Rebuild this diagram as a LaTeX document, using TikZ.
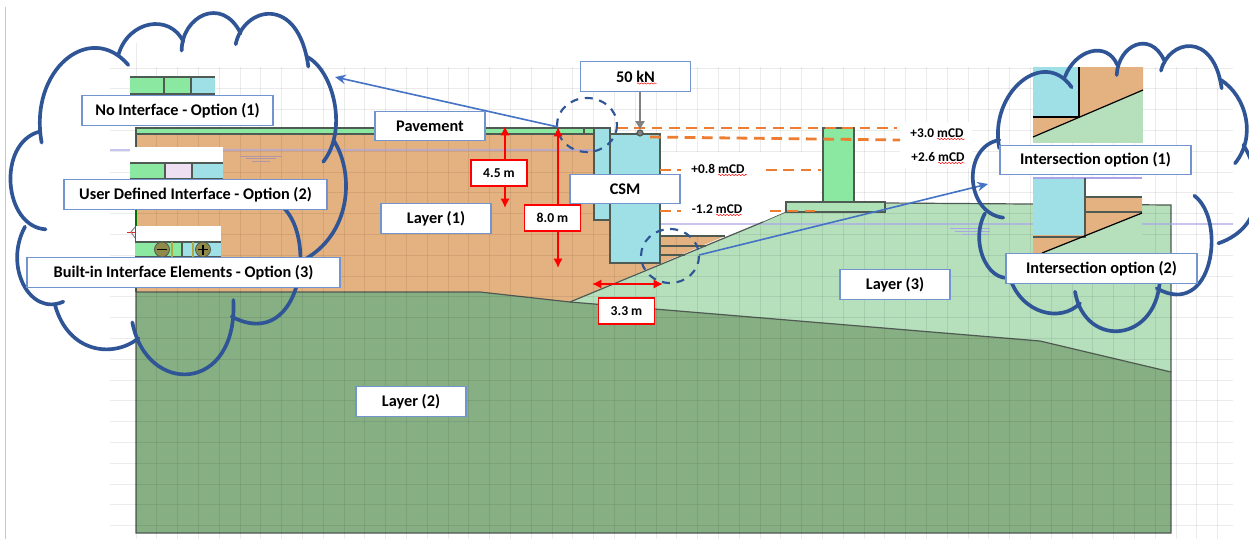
\documentclass[tikz,border=0pt]{standalone}
\usepackage{fontspec}
\setmainfont{Carlito}
\usepackage{xcolor}
\usepackage{tikz}
\usetikzlibrary{positioning,arrows.meta,decorations.pathmorphing,calc}
\definecolor{layerone}{HTML}{E4B180}
\definecolor{layertwo}{HTML}{87AF84}
\definecolor{layerthree}{HTML}{B5E0BB}
\definecolor{pavecol}{HTML}{8AE8A0}
\definecolor{csmcol}{HTML}{9FE0E6}
\definecolor{lilaccol}{HTML}{EFDFF3}
\definecolor{cloudcol}{HTML}{2F5597}
\definecolor{boxcol}{HTML}{7295CF}
\definecolor{calloutcol}{HTML}{4472C4}
\definecolor{levelcol}{HTML}{ED7D31}
\definecolor{watercol}{HTML}{A9A5E8}
\definecolor{edgecol}{HTML}{4F5A52}
\tikzset{
	soil/.style={draw=edgecol,line width=0.9pt},
	labelbox/.style={draw=boxcol,fill=white,line width=0.8pt,font=\fontsize{12.2}{14}\selectfont\bfseries,minimum height=22pt,inner sep=0pt},
	layerbox/.style={labelbox,minimum width=82.5pt},
	optionbox/.style={labelbox,minimum width=143.25pt},
	dimbox/.style={draw=red,fill=white,line width=0.8pt,font=\fontsize{10.2}{12}\selectfont\bfseries,minimum width=42pt,minimum height=19.5pt,inner sep=0pt},
	leveltext/.style={inner sep=0pt,font=\fontsize{10}{12}\selectfont\bfseries},
	dimline/.style={draw=red,line width=1.7pt,{Latex[length=7pt,width=7pt]}-{Latex[length=7pt,width=7pt]}},
	calloutline/.style={draw=calloutcol,line width=1.2pt,-{Stealth[length=8pt,width=7pt]}},
	levelline/.style={draw=levelcol,line width=2.1pt,dash pattern=on 8pt off 5pt},
	waterline/.style={draw=watercol,line width=1pt},
	cloudline/.style={draw=cloudcol,line width=2.75pt,line cap=round},
	zoomring/.style={draw=cloudcol,line width=1.6pt,dash pattern=on 6pt off 5pt},
	spell/.style={draw=red,line width=0.35pt,decorate,decoration={snake,amplitude=0.5pt,segment length=2.5pt}},
	gridline/.style={draw=black,opacity=0.08,line width=0.7pt}
}
\begin{document}
\begin{tikzpicture}[x=0.75pt,y=-0.75pt]
	\useasboundingbox (0,0) rectangle (1249,539);
	\clip (0,0) rectangle (1249,539);
	\fill[white] (0,0) rectangle (1249,539);
	\draw[black!22,line width=0.8pt] (5.5,7) -- (5.5,539);

	\fill[layerone] (136,134) -- (660,134) -- (660,236) -- (725,236) -- (570,302) -- (480,292) -- (136,292) -- cycle;
	\fill[layerthree] (570,302) -- (786,212) -- (786,203) -- (1171,205) -- (1171,372) -- (1040,341) -- cycle;
	\draw[soil,fill=layertwo] (136,292) -- (480,292) -- (570,302) -- (1040,341) -- (1171,372) -- (1171,533) -- (136,533) -- cycle;
	\draw[soil] (136,292) -- (136,134);
	\draw[soil] (885,203) -- (1171,205) -- (1171,372);

	\foreach \gx in {0,...,52}
		\draw[gridline] ({136+20.8*\gx},67) -- ({136+20.8*\gx},539);
	\draw[gridline] (136,43) -- (136,67);
	\foreach \gy in {0,...,22}
		\draw[gridline] (110,{68+20.8*\gy}) -- (1233,{68+20.8*\gy});

	\fill[white] (661,152) -- (820,152) -- (820,201) -- (786,201) -- (786,212) -- (725,236) -- (661,236) -- cycle;
	\fill[white] (900,122) rectangle (972,168);

	\coordinate (watera) at (110,150);
	\coordinate (waterb) at (593,150);
	\coordinate (waterc) at (660,224);
	\coordinate (waterd) at (1233,224);
	\draw[waterline] (watera) -- (waterb) -- (waterc) -- (waterd);
	\draw[draw=watercol!60!brown,line width=0.6pt] (240,156) -- (282,156) (246,158.5) -- (276,158.5) (252,161) -- (270,161);
	\draw[draw=watercol,line width=0.6pt] (950,228) -- (990,228) (955,231) -- (990,231) (962,234) -- (988,234);

	\draw[soil,fill=pavecol] (136,128) rectangle (594,134);
	\draw[soil] (584,128) -- (584,134);
	\draw[soil,fill=csmcol] (594,128) rectangle (610,220);
	\draw[soil,fill=csmcol] (610,134) rectangle (660,263);
	\draw[soil] (610,128) -- (610,134);
	\draw[soil] (660,236) -- (725,236) (660,246) -- (706,246) (660,255) -- (685,255);
	\draw[soil] (570,302) -- (763,222);
	\draw[edgecol,line width=0.5pt] (763,222) -- (786,212);
	\draw[soil,fill=pavecol] (823,128) rectangle (854,202);
	\draw[soil,fill=layerthree!85!pavecol] (786,202) rectangle (885,212);
	\draw[soil,fill=gray] (640,133) circle (3);

	\coordinate (topa) at (617,128);
	\coordinate (topb) at (897,128);
	\coordinate (wata) at (650,137);
	\coordinate (watb) at (900,140);
	\draw[levelline] (topa) -- (topb);
	\draw[levelline] (wata) -- (watb);
	\draw[levelline] (660,170) -- (681,170) (766,170) -- (821,170);
	\draw[levelline] (660,211) -- (681,211) (770,211) -- (821,211);

	\node[leveltext] (lvlthree) at (937,133) {+3.0 mCD};
	\node[leveltext] (lvltwosix) at (938,157) {+2.6 mCD};
	\node[leveltext] (lvlzero) at (718,169) {+0.8 mCD};
	\node[leveltext] (lvlminus) at (717,209) {-1.2 mCD};
	\draw[spell] (937,139) -- (965,139);
	\draw[spell] (938,163) -- (965,163);
	\draw[spell] (718,175) -- (747,175);
	\draw[spell] (716,215) -- (742,215);

	\draw[zoomring] (587,125) ellipse (30 and 27);
	\draw[zoomring] (670,256) ellipse (29 and 27);

	\coordinate (ringa) at (558,127);
	\coordinate (clouda) at (335,77);
	\coordinate (ringb) at (699,255);
	\coordinate (cloudb) at (988,184);
	\draw[calloutline] (ringa) -- (clouda);
	\draw[calloutline] (ringb) -- (cloudb);

	\fill[pavecol] (130,77) rectangle (215,94);
	\fill[csmcol] (191,77) rectangle (215,94);
	\fill[layerone] (130,94) rectangle (215,96);
	\draw[edgecol,line width=0.8pt] (130,77) -- (215,77) (130,94) -- (215,94) (164,77) -- (164,94) (191,77) -- (191,94);

	\fill[white] (130,147) rectangle (223,163);
	\fill[pavecol] (130,163) rectangle (165,179);
	\fill[lilaccol] (165,163) rectangle (192,179);
	\fill[csmcol] (192,163) rectangle (223,179);
	\draw[edgecol,line width=0.8pt] (130,163) -- (223,163) (130,179) -- (223,179) (165,163) -- (165,179) (192,163) -- (192,179);

	\draw[green!45!black,line width=0.8pt] (136,210) -- (136,226);
	\draw[red!70!gray,line width=0.7pt] (127,232) -- (135,232);
	\draw[gray,line width=0.7pt] (135,227) -- (131,232) -- (135,238);
	\fill[white] (136,226) rectangle (221,241);
	\fill[pavecol] (135,242) rectangle (182,257);
	\fill[csmcol] (182,242) rectangle (221,257);
	\draw[edgecol,line width=0.8pt] (135,242) -- (221,242) (135,257) -- (221,257) (182,242) -- (182,257);
	\draw[yellow!65!black,line width=1pt] (172,242) -- (172,257) (193,242) -- (193,257);
	\draw[edgecol,fill=yellow!50!black,line width=0.6pt] (162,249.5) circle (7.5);
	\draw[black,line width=0.9pt] (157,249.5) -- (167,249.5);
	\draw[edgecol,fill=yellow!50!black,line width=0.6pt] (203,249.5) circle (7.5);
	\draw[black,line width=0.9pt] (198,249.5) -- (208,249.5) (203,244.5) -- (203,254.5);

	\fill[layerthree] (1033,67) rectangle (1143,143);
	\fill[layerone] (1033,67) -- (1143,67) -- (1143,90) -- (1033,137) -- cycle;
	\fill[csmcol] (1033,67) rectangle (1079,117);
	\draw[black,line width=0.9pt] (1033,117) -- (1079,117) -- (1079,67);
	\draw[black,line width=0.9pt] (1033,137) -- (1143,90);

	\fill[layerthree] (1033,178) rectangle (1142,253);
	\fill[white] (1085,178) rectangle (1142,197);
	\fill[layerone] (1085,197) -- (1142,197) -- (1142,213) -- (1042,253) -- (1033,253) -- (1033,235) -- (1085,235) -- cycle;
	\fill[csmcol] (1033,178) rectangle (1085,235);
	\draw[waterline] (1033,178) -- (1142,178);
	\draw[edgecol,line width=0.9pt] (1033,237) -- (1085,237) -- (1085,178) (1085,197) -- (1142,197) (1085,212) -- (1142,212);
	\draw[black,line width=0.9pt] (1042,253) -- (1142,213);

	\begin{scope}[x=0.25pt,y=-0.25pt]
		\draw[cloudline] (125,428) .. controls (85,210) and (270,60) .. (385,195);
		\draw[cloudline] (355,165) .. controls (385,60) and (510,40) .. (550,125);
		\draw[cloudline] (545,152) .. controls (545,50) and (665,-15) .. (722,100);
		\draw[cloudline] (707,133) .. controls (730,20) and (895,-20) .. (925,200);
		\draw[cloudline] (920,170) .. controls (1000,210) and (1045,390) .. (970,485);
		\draw[cloudline] (1000,420) .. controls (1060,510) and (1060,690) .. (920,775);
		\draw[cloudline] (825,605) .. controls (960,670) and (915,1065) .. (695,950);
		\draw[cloudline] (700,900) .. controls (715,1180) and (440,1190) .. (397,967);
		\draw[cloudline] (415,1015) .. controls (340,1075) and (205,1060) .. (165,915);
		\draw[cloudline] (190,905) .. controls (90,950) and (10,800) .. (75,680);
		\draw[cloudline] (137,688) .. controls (10,680) and (-10,430) .. (118,395);
	\end{scope}
	\begin{scope}[shift={(960,30)},x=0.25pt,y=-0.25pt]
		\draw[cloudline] (118,355) .. controls (85,190) and (250,50) .. (335,172);
		\draw[cloudline] (315,140) .. controls (345,60) and (440,30) .. (472,105);
		\draw[cloudline] (470,135) .. controls (475,45) and (570,0) .. (612,90);
		\draw[cloudline] (603,122) .. controls (625,30) and (760,0) .. (785,175);
		\draw[cloudline] (783,150) .. controls (860,200) and (890,320) .. (825,400);
		\draw[cloudline] (850,345) .. controls (910,440) and (920,590) .. (775,640);
		\draw[cloudline] (703,497) .. controls (800,570) and (760,870) .. (590,775);
		\draw[cloudline] (600,735) .. controls (600,940) and (375,960) .. (345,785);
		\draw[cloudline] (360,820) .. controls (300,880) and (185,850) .. (150,745);
		\draw[cloudline] (172,735) .. controls (90,780) and (25,640) .. (75,550);
		\draw[cloudline] (130,563) .. controls (15,550) and (5,350) .. (118,330);
	\end{scope}

	\coordinate (dimat) at (505,126);
	\coordinate (dimab) at (505,208);
	\coordinate (dimbt) at (558,127);
	\coordinate (dimbb) at (558,268);
	\coordinate (dimcl) at (592,284);
	\coordinate (dimcr) at (663,284);
	\draw[dimline] (dimat) -- (dimab);
	\draw[dimline] (dimbt) -- (dimbb);
	\draw[dimline] (dimcl) -- (dimcr);
	\node[dimbox] (dima) at (499,173) {4.5 m};
	\node[dimbox] (dimb) at (552.5,218) {8.0 m};
	\node[dimbox] (dimc) at (626.5,311) {3.3 m};

	\node[layerbox] (loadbox) at (635.5,76.5) {50 kN};
	\draw[spell] (637,83.5) -- (657,83.5);
	\coordinate (loadpt) at (640,129);
	\draw[draw=gray,line width=1.1pt,-{Triangle[length=6pt,width=7pt]}] (loadbox.south -| loadpt) -- (loadpt);

	\node[layerbox] (pavebox) at (430,126) {Pavement};
	\node[layerbox] (layerone) at (436,218.5) {Layer (1)};
	\node[layerbox] (csmbox) at (625,189) {CSM};
	\node[layerbox] (layertwo) at (411,401.5) {Layer (2)};
	\node[layerbox] (layerthree) at (895,284.5) {Layer (3)};

	\node[optionbox] (optone) at (177.5,110.5) {No Interface - Option (1)};
	\node[labelbox,minimum width=197.25pt] (opttwo) at (195.5,194.5) {User Defined Interface - Option (2)};
	\node[labelbox,minimum width=234.75pt] (optthree) at (183.5,272.5) {Built-in Interface Elements - Option (3)};
	\node[optionbox] (intone) at (1095.5,160) {Intersection option (1)};
	\node[optionbox] (inttwo) at (1101.5,268.5) {Intersection option (2)};
\end{tikzpicture}
\end{document}
